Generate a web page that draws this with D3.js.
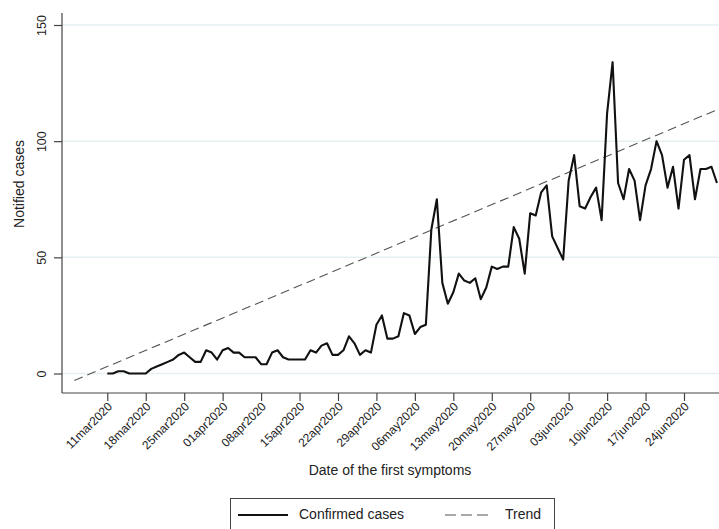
<!DOCTYPE html>
<html>
<head>
<meta charset="utf-8">
<script src="https://cdn.jsdelivr.net/npm/d3@7"></script>
<style>
  html, body { margin: 0; padding: 0; background: #fff; }
  svg { display: block; font-family: "Liberation Sans", Arial, sans-serif; }
</style>
</head>
<body>
<div id="viz"></div>
<script>
// daily notified cases by date of first symptoms, from 11mar2020
const firstDay = "2020-03-11";
const cases = [
  0, 0, 1, 1, 0, 0, 0, 0, 2, 3,
  4, 5, 6, 8, 9, 7, 5, 5, 10, 9,
  6, 10, 11, 9, 9, 7, 7, 7, 4, 4,
  9, 10, 7, 6, 6, 6, 6, 10, 9, 12,
  13, 8, 8, 10, 16, 13, 8, 10, 9, 21,
  25, 15, 15, 16, 26, 25, 17, 20, 21, 62,
  75, 39, 30, 35, 43, 40, 39, 41, 32, 37,
  46, 45, 46, 46, 63, 58, 43, 69, 68, 78,
  81, 59, 54, 49, 83, 94, 72, 71, 76, 80,
  66, 112, 134, 82, 75, 88, 83, 66, 81, 88,
  100, 94, 80, 89, 71, 92, 94, 75, 88, 88,
  89, 82
];
// linear trend end points
const trendDates  = ["2020-03-05", "2020-07-01"];
const trendValues = [-3, 114.5];

const xTickDates = ["2020-03-11", "2020-03-18", "2020-03-25", "2020-04-01", "2020-04-08",
  "2020-04-15", "2020-04-22", "2020-04-29", "2020-05-06", "2020-05-13", "2020-05-20",
  "2020-05-27", "2020-06-03", "2020-06-10", "2020-06-17", "2020-06-24"];
const yTicks = [0, 50, 100, 150];
const legendLabels = ["Confirmed cases", "Trend"];

const width = 719, height = 529;
const plot = {left: 62, right: 719, top: 13, bottom: 393};

const parse = d3.utcParse("%Y-%m-%d");
const fmt = d3.utcFormat("%d%b%Y");

const start = parse(firstDay);
const series = cases.map((v, i) => ({date: d3.utcDay.offset(start, i), value: v}));
const trend = trendDates.map((d, i) => ({date: parse(d), value: trendValues[i]}));

const svg = d3.select("#viz").append("svg")
  .attr("width", width)
  .attr("height", height);

const x = d3.scaleUtc()
  .domain([parse("2020-03-11"), parse("2020-06-24")])
  .range([107.3, 684]);

const y = d3.scaleLinear()
  .domain([0, 150])
  .range([373.5, 25]);

// gridlines
svg.append("g")
  .selectAll("line")
  .data(yTicks)
  .join("line")
  .attr("x1", plot.left)
  .attr("x2", plot.right)
  .attr("y1", d => y(d))
  .attr("y2", d => y(d))
  .style("stroke", "#e6eff1")
  .style("stroke-width", 1.5);

const line = d3.line()
  .x(d => x(d.date))
  .y(d => y(d.value));

svg.append("defs").append("clipPath").attr("id", "clip")
  .append("rect")
  .attr("x", plot.left).attr("y", plot.top)
  .attr("width", plot.right - plot.left).attr("height", plot.bottom - plot.top);

const g = svg.append("g").attr("clip-path", "url(#clip)");

g.append("path")
  .attr("d", line(trend))
  .style("fill", "none")
  .style("stroke", "#555")
  .style("stroke-width", 1.1)
  .style("stroke-dasharray", "9,5");

g.append("path")
  .attr("d", line(series))
  .style("fill", "none")
  .style("stroke", "#111")
  .style("stroke-width", 2.1)
  .style("stroke-linejoin", "round");

// y axis
const yAxis = svg.append("g")
  .attr("transform", `translate(${plot.left},0)`)
  .call(d3.axisLeft(y).tickValues(yTicks).tickSize(8).tickPadding(6));
yAxis.select(".domain").attr("d", `M0,${plot.top}V${plot.bottom}`);
yAxis.selectAll("path, line").style("stroke", "#444").style("stroke-width", 1.2);
yAxis.selectAll("text")
  .attr("x", null).attr("dy", null)
  .attr("transform", "translate(-19,0) rotate(-90)")
  .attr("text-anchor", "middle")
  .attr("dominant-baseline", "middle")
  .style("font-size", "12.5px")
  .style("fill", "#222")
  .style("font-family", "Liberation Sans, Arial, sans-serif");

// x axis
const xAxis = svg.append("g")
  .attr("transform", `translate(0,${plot.bottom})`)
  .call(d3.axisBottom(x).tickValues(xTickDates.map(parse)).tickSize(8)
    .tickFormat(d => fmt(d).toLowerCase()));
xAxis.select(".domain").attr("d", `M${plot.left},0H${plot.right}`);
xAxis.selectAll("path, line").style("stroke", "#444").style("stroke-width", 1.2);
xAxis.selectAll("text")
  .attr("y", null).attr("dy", null)
  .attr("transform", "translate(3,12) rotate(-45)")
  .attr("text-anchor", "end")
  .attr("dominant-baseline", "middle")
  .style("font-size", "12px")
  .style("fill", "#222")
  .style("font-family", "Liberation Sans, Arial, sans-serif");

// axis titles
svg.append("text")
  .attr("transform", "translate(24,184) rotate(-90)")
  .attr("text-anchor", "middle")
  .style("font-size", "14px")
  .style("fill", "#222")
  .text("Notified cases");

svg.append("text")
  .attr("x", 390).attr("y", 475)
  .attr("text-anchor", "middle")
  .style("font-size", "14px")
  .style("fill", "#222")
  .text("Date of the first symptoms");

// legend
const legend = svg.append("g");
legend.append("rect")
  .attr("x", 230.5).attr("y", 498.5)
  .attr("width", 324).attr("height", 40)
  .style("fill", "#fff")
  .style("stroke", "#444")
  .style("stroke-width", 1);

const legendItems = [
  {label: legendLabels[0], x0: 238, x1: 288, tx: 299, dash: null, color: "#111", w: 2},
  {label: legendLabels[1], x0: 445, x1: 488, tx: 505, dash: "11,5", color: "#555", w: 1.1}
];
legendItems.forEach(it => {
  legend.append("line")
    .attr("x1", it.x0).attr("x2", it.x1)
    .attr("y1", 515).attr("y2", 515)
    .style("stroke", it.color)
    .style("stroke-width", it.w)
    .style("stroke-dasharray", it.dash);
  legend.append("text")
    .attr("x", it.tx).attr("y", 515)
    .attr("dominant-baseline", "middle")
    .style("font-size", "14px")
    .style("fill", "#222")
    .text(it.label);
});
</script>
</body>
</html>
